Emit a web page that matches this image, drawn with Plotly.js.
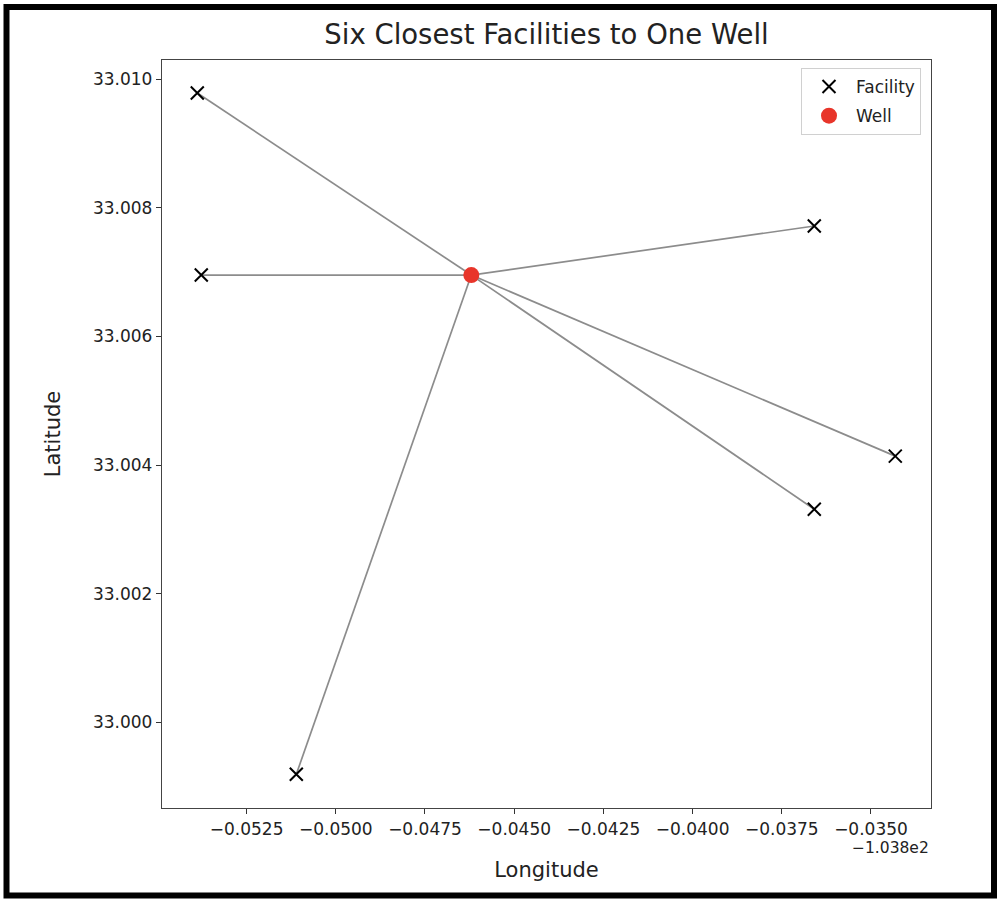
<!DOCTYPE html>
<html>
<head>
<meta charset="utf-8">
<script src="https://cdn.plot.ly/plotly-3.0.1.min.js"></script>
<style>
  html, body { margin: 0; padding: 0; background: #ffffff; }
  #chart { width: 997px; height: 899px; }
</style>
</head>
<body>
<div id="chart"></div>
<script>
// ---- data ----
const wellLon = [-103.846202];
const wellLat = [33.006955];
const facilityLon = [-103.853882, -103.853770, -103.836589, -103.834319, -103.836589, -103.851107];
const facilityLat = [33.009787, 33.006955, 33.007718, 33.004139, 33.003314, 32.999191];

const xTickVals = [-103.8525, -103.8500, -103.8475, -103.8450, -103.8425, -103.8400, -103.8375, -103.8350];
const xTickText = ['\u22120.0525', '\u22120.0500', '\u22120.0475', '\u22120.0450', '\u22120.0425', '\u22120.0400', '\u22120.0375', '\u22120.0350'];
const yTickVals = [33.000, 33.002, 33.004, 33.006, 33.008, 33.010];
const xOffsetText = '\u22121.038e2';

// ---- connecting lines, one trace per facility ----
const traces = [];
for (let i = 0; i < facilityLon.length; i++) {
  traces.push({
    x: [wellLon[0], facilityLon[i]],
    y: [wellLat[0], facilityLat[i]],
    mode: 'lines',
    type: 'scatter',
    line: { color: 'rgb(140,140,140)', width: 1.7 },
    hoverinfo: 'skip',
    showlegend: false
  });
}
traces.push({
  x: facilityLon, y: facilityLat,
  mode: 'markers', type: 'scatter', name: 'Facility', legendgroup: 'f',
  marker: { symbol: 'x-thin', size: 13, color: '#000000', line: { color: '#000000', width: 2 } }
});
traces.push({
  x: wellLon, y: wellLat,
  mode: 'markers', type: 'scatter', name: 'Well', legendgroup: 'w',
  marker: { symbol: 'circle', size: 16, color: '#e8352a', line: { width: 0 } }
});

const W = 997, H = 899;
const M = { l: 162, r: 66, t: 60, b: 91 };
const pw = W - M.l - M.r, ph = H - M.t - M.b;
const px = v => (v - M.l) / pw;
const py = v => (H - M.b - v) / ph;

const font = 'DejaVu Sans, sans-serif';
const layout = {
  width: W, height: H,
  margin: M,
  paper_bgcolor: '#ffffff',
  plot_bgcolor: '#ffffff',
  font: { family: font, color: '#222222' },
  title: {
    text: 'Six Closest Facilities to One Well',
    font: { family: font, size: 27.5, color: '#222222' },
    x: 0.5, xref: 'paper', xanchor: 'center',
    y: 1 - 34 / H, yref: 'container', yanchor: 'middle'
  },
  xaxis: {
    range: [-103.854871, -103.833318],
    tickvals: xTickVals, ticktext: xTickText,
    ticks: 'outside', ticklen: 5, tickwidth: 1, tickcolor: '#333333',
    tickfont: { family: font, size: 17, color: '#222222' },
    showgrid: false, zeroline: false,
    showline: true, mirror: true, linecolor: '#444444', linewidth: 1.2,
    title: { text: 'Longitude', font: { family: font, size: 21, color: '#222222' }, standoff: 24 }
  },
  yaxis: {
    range: [32.998667, 33.0103],
    tickvals: yTickVals, tickformat: '.3f',
    ticks: 'outside', ticklen: 5, tickwidth: 1, tickcolor: '#333333',
    tickfont: { family: font, size: 17, color: '#222222' },
    showgrid: false, zeroline: false,
    showline: true, mirror: true, linecolor: '#444444', linewidth: 1.2,
    title: { text: 'Latitude', font: { family: font, size: 21, color: '#222222' }, standoff: 26 }
  },
  showlegend: true,
  legend: {
    x: px(921), y: py(68), xanchor: 'right', yanchor: 'top',
    bgcolor: '#ffffff', bordercolor: '#d0d0d0', borderwidth: 1,
    font: { family: font, size: 17, color: '#222222' },
    tracegroupgap: 4, itemwidth: 44
  },
  annotations: [{
    text: xOffsetText, showarrow: false,
    xref: 'paper', yref: 'paper', x: 1, y: py(848),
    xanchor: 'right', yanchor: 'middle',
    font: { family: font, size: 15.5, color: '#222222' }
  }],
  shapes: [{
    type: 'rect', xref: 'paper', yref: 'paper',
    x0: px(6.5), x1: px(994), y0: py(895.5), y1: py(7),
    line: { color: '#000000', width: 6 }, fillcolor: 'rgba(0,0,0,0)', layer: 'above'
  }]
};

Plotly.newPlot('chart', traces, layout, { displayModeBar: false, staticPlot: true });
</script>
</body>
</html>
